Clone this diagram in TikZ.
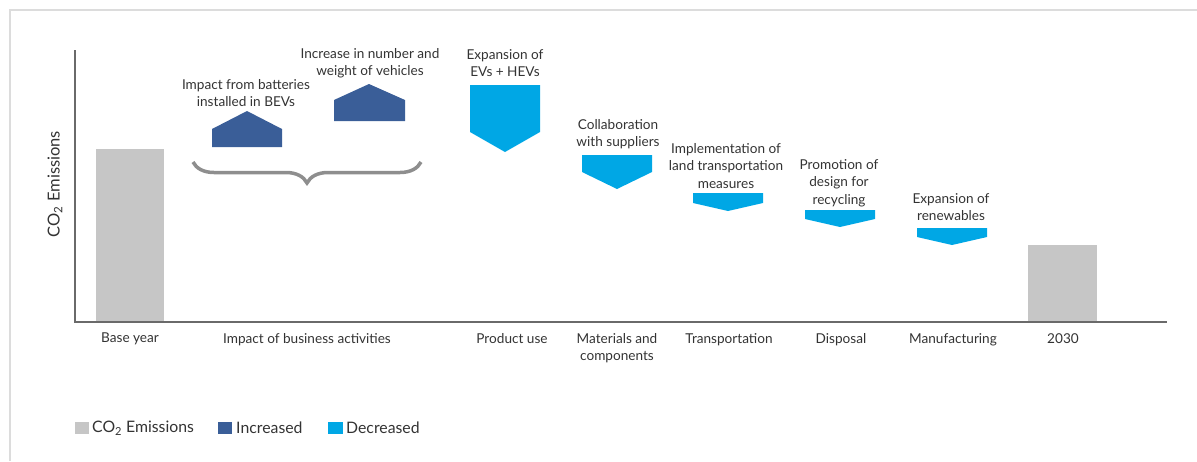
\documentclass[tikz,border=0pt]{standalone}
\usepackage{fontspec}
\setmainfont{Lato}
\usetikzlibrary{decorations.pathreplacing}

\definecolor{barGray}{HTML}{C6C6C6}
\definecolor{incBlue}{HTML}{3A5E98}
\definecolor{decBlue}{HTML}{00A7E5}
\definecolor{txtGray}{HTML}{333333}
\definecolor{axisGray}{HTML}{6A6A6A}
\definecolor{braceGray}{HTML}{8E8E8E}
\definecolor{frameGray}{HTML}{DCDCDC}

\tikzset{
  lbl/.style={text=txtGray, font=\fontsize{13.6}{17.5}\selectfont, align=center, inner sep=0pt, anchor=north},
  legtxt/.style={text=txtGray, font=\fontsize{15.8}{18}\selectfont, inner sep=0pt, anchor=west},
}

\begin{document}
\begin{tikzpicture}[x=1pt, y=-1pt]
        \useasboundingbox (0,0) rectangle (1197,461);
        \draw[frameGray, line width=1.5pt] (10,461) -- (10,10) -- (1197,10);

        % axes and bars
        \fill[barGray] (96,149) rectangle (164,321);
        \fill[barGray] (1028,245) rectangle (1097,321);
        \draw[axisGray, line width=1.5pt] (75,50) -- (75,322) -- (1167,322);
        \node[text=txtGray, font=\fontsize{16.5}{18}\selectfont, rotate=90, inner sep=0pt] (ylab) at (55,184) {CO\textsubscript{2} Emissions};

        \node[lbl] (base) at (130,333) {Base year};
        \node[lbl] (impact) at (307,333) {Impact of business activities};
        \node[lbl] (product) at (512,333) {Product use};
        \node[lbl] (materials) at (617,333) {Materials and\\components};
        \node[lbl] (transport) at (729,333) {Transportation};
        \node[lbl] (disposal) at (841,333) {Disposal};
        \node[lbl] (manuf) at (953,333) {Manufacturing};
        \node[lbl] (target) at (1063,333) {2030};

        % increases
        \draw[braceGray, line width=3.5pt, decorate, decoration={brace, mirror, amplitude=21pt}] (193,162) -- (421,162);
        \fill[incBlue] (212,147) -- (212,129) -- (247,111) -- (282,129) -- (282,147) -- cycle;
        \fill[incBlue] (334,121) -- (334,100) -- (369,84) -- (405,100) -- (405,121) -- cycle;
        \node[lbl] (bev) at (246,79) {Impact from batteries\\installed in BEVs};
        \node[lbl] (vehicles) at (370,48) {Increase in number and\\weight of vehicles};

        % decreases
        \fill[decBlue] (470,85) -- (540,85) -- (540,132) -- (505,152) -- (470,132) -- cycle;
        \fill[decBlue] (582,155) -- (652,155) -- (652,172) -- (617,189) -- (582,172) -- cycle;
        \fill[decBlue] (693,193) -- (763,193) -- (763,203) -- (728,211) -- (693,203) -- cycle;
        \fill[decBlue] (805,210) -- (875,210) -- (875,219) -- (840,227) -- (805,219) -- cycle;
        \fill[decBlue] (917,228) -- (987,228) -- (987,237) -- (952,245) -- (917,237) -- cycle;
        \node[lbl] (evs) at (505,49) {Expansion of\\EVs + HEVs};
        \node[lbl] (suppliers) at (618,119) {Collaboration\\with suppliers};
        \node[lbl] (landtr) at (726,143) {Implementation of\\land transportation\\measures};
        \node[lbl] (recycling) at (839,159) {Promotion of\\design for\\recycling};
        \node[lbl] (renew) at (951,193) {Expansion of\\renewables};

        % legend
        \fill[barGray] (75,422) rectangle (89,434);
        \node[legtxt] (legco) at (92,428) {CO\textsubscript{2} Emissions};
        \fill[incBlue] (218,422) rectangle (232,434);
        \node[legtxt] (leginc) at (236,428) {Increased};
        \fill[decBlue] (328,422) rectangle (343,434);
        \node[legtxt] (legdec) at (346,428) {Decreased};
\end{tikzpicture}
\end{document}
